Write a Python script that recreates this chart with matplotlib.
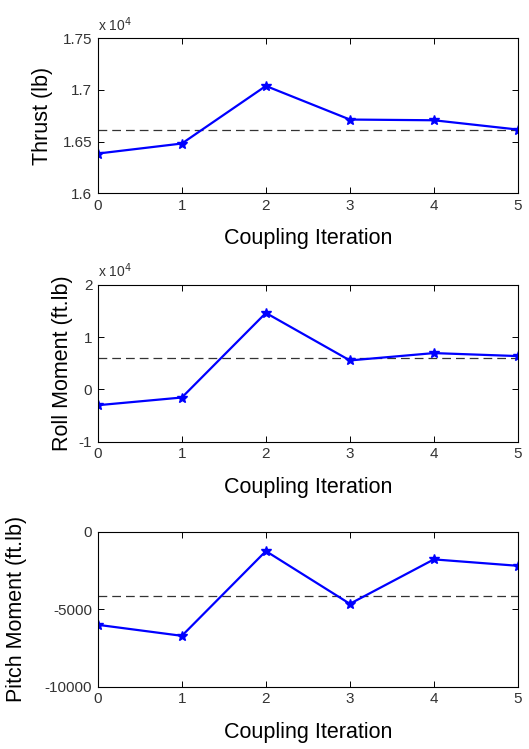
import matplotlib
matplotlib.use("Agg")
import matplotlib.pyplot as plt
import matplotlib.ticker as mticker

plt.rcParams.update({
    "font.family": ["Liberation Sans", "DejaVu Sans"],
    "xtick.direction": "in",
    "ytick.direction": "in",
    "xtick.top": True,
    "ytick.right": True,
    "axes.linewidth": 0.8,
    "axes.unicode_minus": False,
})

iterations = [0, 1, 2, 3, 4, 5]
thrust = [16384, 16481, 17038, 16713, 16706, 16616]
thrust_ref = 16615
roll_moment = [-3000, -1530, 14600, 5540, 6940, 6370]
roll_ref = 6040
pitch_moment = [-6000, -6710, -1245, -4645, -1780, -2194]
pitch_ref = -4129

thrust_ticks = [16000, 16500, 17000, 17500]
roll_ticks = [-10000, 0, 10000, 20000]
pitch_ticks = [-10000, -5000, 0]

LINE_COLOR = "#0000FF"

fig = plt.figure(figsize=(5.29, 7.49), dpi=100)

panels = [
    ([0.185, 0.742, 0.794, 0.207], thrust, thrust_ref, thrust_ticks, "Thrust (lb)", True, -0.107),
    ([0.185, 0.410, 0.794, 0.210], roll_moment, roll_ref, roll_ticks, "Roll Moment (ft.lb)", True, -0.060),
    ([0.185, 0.083, 0.794, 0.207], pitch_moment, pitch_ref, pitch_ticks, "Pitch Moment (ft.lb)", False, -0.169),
]

for rect, vals, ref, yticks, ylabel, scaled, ylab_x in panels:
    ax = fig.add_axes(rect)
    ax.axhline(ref, color="#333333", linestyle=(0, (7, 4)), linewidth=0.9, zorder=1)
    ax.plot(iterations, vals, color=LINE_COLOR, linewidth=1.6, marker="*",
            markersize=7, zorder=2)
    ax.set_xlim(0, 5)
    ax.set_ylim(yticks[0], yticks[-1])
    ax.set_xticks(iterations)
    ax.set_yticks(yticks)
    if scaled:
        ax.yaxis.set_major_formatter(mticker.FuncFormatter(lambda v, _: f"{v / 1e4:g}"))
        ax.text(0.0, 1.03, r"x 10$^4$", transform=ax.transAxes, fontsize=10,
                color="#333333", ha="left", va="bottom")
    ax.tick_params(labelsize=11, labelcolor="#333333", length=4, width=0.7, pad=4)
    ax.set_xlabel("Coupling Iteration", fontsize=15.5, labelpad=11)
    ax.set_ylabel(ylabel, fontsize=15.5)
    ax.yaxis.set_label_coords(ylab_x, 0.5)

fig.savefig("out.png", dpi=100)
